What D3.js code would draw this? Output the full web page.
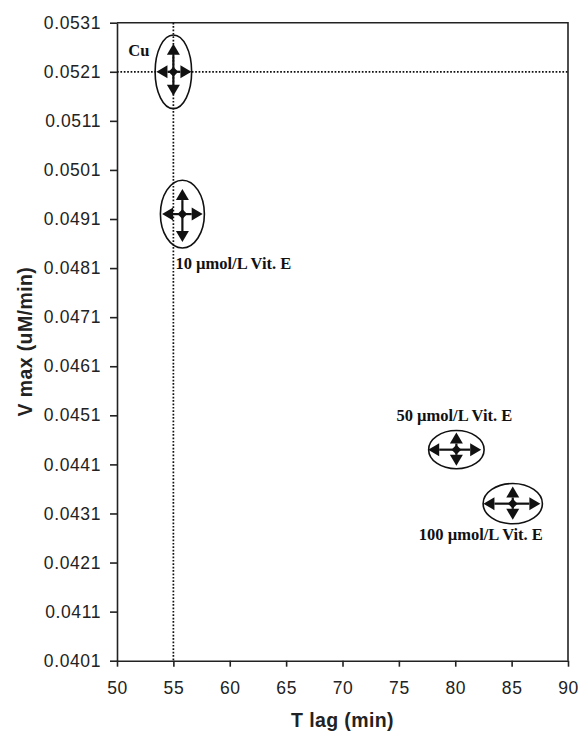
<!DOCTYPE html>
<meta charset="utf-8">
<title>Vmax vs Tlag</title>
<style>
body { margin: 0; background: #fff; }
.axis text { font: 17.5px "Liberation Sans", Arial, sans-serif; letter-spacing: 0.6px; fill: #222; }
.axis path, .axis line { stroke: #222; stroke-width: 1.6px; }
.title { font: bold 19.5px "Liberation Sans", Arial, sans-serif; letter-spacing: 0.4px; fill: #222; }
.plabel { font: bold 16.5px "Liberation Serif", "Times New Roman", serif; fill: #111; }
</style>
<body>
<svg width="579" height="731"></svg>
<script src="https://d3js.org/d3.v7.min.js"></script>
<script>
// data
var names  = ['Cu', '10 \u00b5mol/L Vit. E', '50 \u00b5mol/L Vit. E', '100 \u00b5mol/L Vit. E'];
var tlag   = [55.0, 55.8, 80.1, 85.1];
var vmax   = [0.0521, 0.0492, 0.0444, 0.0433];
// arrow extents (error bars) in data units
var xErrLo = [1.5, 1.8, 2.5, 2.6];
var xErrHi = [1.6, 1.8, 2.2, 2.45];
var yErrHi = [0.00057, 0.00051, 0.00035, 0.00035];
var yErrLo = [0.00049, 0.00057, 0.00033, 0.00033];
// enclosing ellipse half-axes in data units
var ellX   = [1.62, 1.95, 2.46, 2.63];
var ellY   = [0.00075, 0.00069, 0.00039, 0.00041];

var xTicks = [50, 55, 60, 65, 70, 75, 80, 85, 90];
var yTicks = [0.0401, 0.0411, 0.0421, 0.0431, 0.0441, 0.0451, 0.0461, 0.0471,
              0.0481, 0.0491, 0.0501, 0.0511, 0.0521, 0.0531];
var refX = 55, refY = 0.0521;

// label offsets in px from the point (layout only)
var labelDx = [-24, -7, -60, -94];
var labelDy = [-16, 55, -29, 36];
var labelAnchor = ['end', 'start', 'start', 'start'];

var svg = d3.select('svg');
var mLeft = 117, mRight = 568, mTop = 22.7, mBottom = 660.7;

var x = d3.scaleLinear().domain([50, 90]).range([mLeft, mRight]);
var y = d3.scaleLinear().domain([0.0401, 0.0531]).range([mBottom, mTop]);

// frame (top and right)
svg.append('path')
  .attr('d', 'M' + mLeft + ',' + mTop + 'H' + mRight + 'V' + mBottom)
  .attr('fill', 'none').attr('stroke', '#222').attr('stroke-width', 1.6);

svg.append('g').attr('class', 'axis')
  .attr('transform', 'translate(0,' + mBottom + ')')
  .call(d3.axisBottom(x).tickValues(xTicks).tickSize(6).tickPadding(15).tickSizeOuter(0));

svg.append('g').attr('class', 'axis')
  .attr('transform', 'translate(' + mLeft + ',0)')
  .call(d3.axisLeft(y).tickValues(yTicks).tickFormat(d3.format('.4f')).tickSize(7).tickPadding(9).tickSizeOuter(0));

// dotted reference lines
svg.append('line')
  .attr('x1', x(refX)).attr('x2', x(refX)).attr('y1', mTop).attr('y2', mBottom)
  .attr('stroke', '#111').attr('stroke-width', 1.7).attr('stroke-dasharray', '1.7,1.7');
svg.append('line')
  .attr('x1', mLeft).attr('x2', mRight).attr('y1', y(refY)).attr('y2', y(refY))
  .attr('stroke', '#111').attr('stroke-width', 1.7).attr('stroke-dasharray', '1.7,1.7');

// points
var pts = d3.range(names.length);
var g = svg.append('g').selectAll('g').data(pts).enter().append('g');

g.append('ellipse')
  .attr('cx', function(i) { return x(tlag[i]); })
  .attr('cy', function(i) { return y(vmax[i]); })
  .attr('rx', function(i) { return x(tlag[i] + ellX[i]) - x(tlag[i]); })
  .attr('ry', function(i) { return y(vmax[i]) - y(vmax[i] + ellY[i]); })
  .attr('fill', 'none').attr('stroke', '#111').attr('stroke-width', 1.6);

function arrow(sel, i, tx, ty) {
  var cx = x(tlag[i]), cy = y(vmax[i]);
  var dx = tx - cx, dy = ty - cy, len = Math.sqrt(dx * dx + dy * dy);
  var ux = dx / len, uy = dy / len, hl = 11, hw = 6.5;
  var bx = tx - ux * hl, by = ty - uy * hl;
  sel.append('line').attr('x1', cx).attr('y1', cy).attr('x2', bx).attr('y2', by)
    .attr('stroke', '#111').attr('stroke-width', 2.2);
  sel.append('path')
    .attr('d', 'M' + tx + ',' + ty + 'L' + (bx - uy * hw) + ',' + (by + ux * hw) +
               'L' + (bx + uy * hw) + ',' + (by - ux * hw) + 'Z')
    .attr('fill', '#111');
}

g.each(function(i) {
  var s = d3.select(this);
  arrow(s, i, x(tlag[i] - xErrLo[i]), y(vmax[i]));
  arrow(s, i, x(tlag[i] + xErrHi[i]), y(vmax[i]));
  arrow(s, i, x(tlag[i]), y(vmax[i] + yErrHi[i]));
  arrow(s, i, x(tlag[i]), y(vmax[i] - yErrLo[i]));
  s.append('path')
    .attr('transform', 'translate(' + x(tlag[i]) + ',' + y(vmax[i]) + ')')
    .attr('d', d3.symbol(d3.symbolDiamond2, 60))
    .attr('fill', '#111');
});

g.append('text').attr('class', 'plabel')
  .attr('x', function(i) { return x(tlag[i]) + labelDx[i]; })
  .attr('y', function(i) { return y(vmax[i]) + labelDy[i]; })
  .attr('text-anchor', function(i) { return labelAnchor[i]; })
  .text(function(i) { return names[i]; });

// axis titles
svg.append('text').attr('class', 'title')
  .attr('x', (mLeft + mRight) / 2).attr('y', 727).attr('text-anchor', 'middle')
  .text('T lag (min)');
svg.append('text').attr('class', 'title')
  .attr('transform', 'translate(32,' + (mTop + mBottom) / 2 + ')rotate(-90)')
  .attr('text-anchor', 'middle')
  .text('V max (uM/min)');
</script>
</body>
